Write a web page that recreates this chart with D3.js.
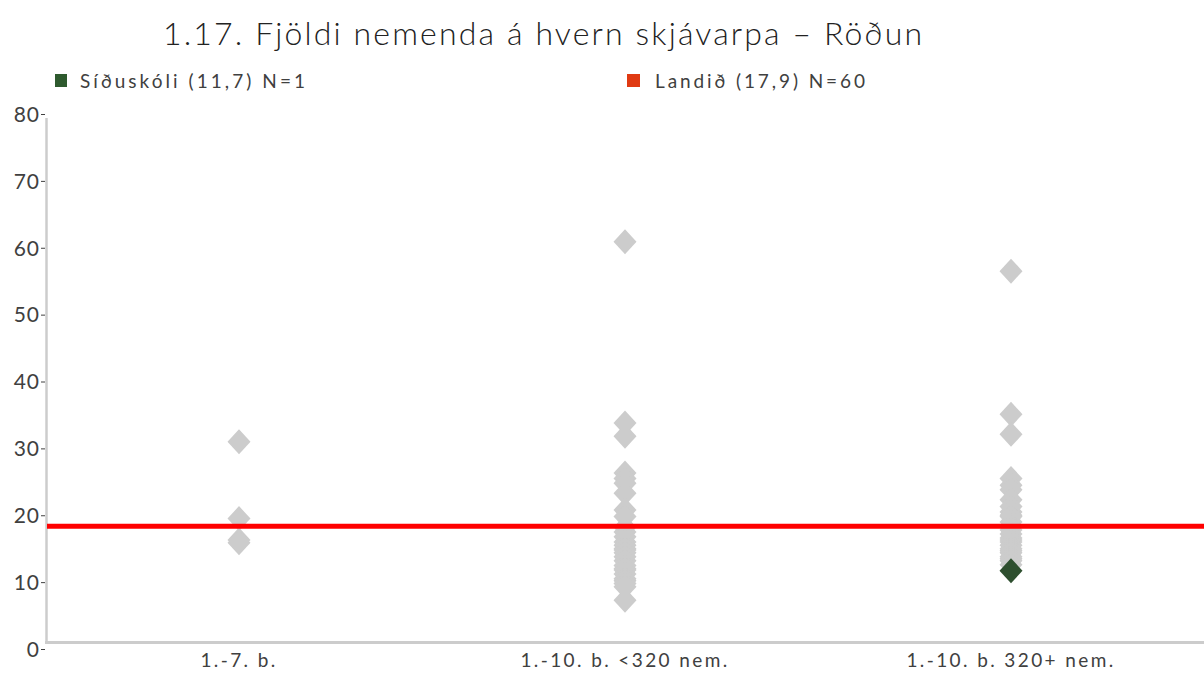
<!DOCTYPE html>
<html>
<head>
<meta charset="utf-8">
<script src="https://cdn.jsdelivr.net/npm/d3@7"></script>
<style>
  body { margin: 0; background: #fff; }
  text { font-family: Lato, "Open Sans", sans-serif; fill: #404040; }
</style>
</head>
<body>
<div id="chart"></div>
<script>
// data
const categories = ["1.-7. b.", "1.-10. b. <320 nem.", "1.-10. b. 320+ nem."]
const yTicks = [0, 10, 20, 30, 40, 50, 60, 70, 80]

// grey diamonds: all schools in each category
const schools1to7 = [31.0, 19.5, 16.3, 15.9]
const schoolsUnder320 = [60.9, 33.8, 31.8, 26.3, 25.5, 24.8, 23.3, 20.8, 19.8, 18.2, 17.5, 16.8, 16.0,
    15.5, 15.0, 14.8, 14.4, 13.8, 13.2, 12.5, 12.0, 11.8, 11.2, 10.5, 10.2, 9.8, 9.3, 7.3]
const schoolsOver320 = [56.5, 35.1, 32.1, 25.5, 24.5, 23.8, 22.3, 21.3, 20.5, 20.0, 19.8, 19.0, 18.5,
    18.2, 17.8, 17.2, 16.6, 16.3, 16.0, 15.5, 15.0, 14.7, 14.4, 13.8, 13.5, 13.2, 12.6]

// highlighted school
const schoolName = "Síðuskóli"
const schoolCategory = "1.-10. b. 320+ nem."
const schoolValue = 11.7
const schoolN = 1

// national average
const landValue = 17.9
const landN = 60

const title = "1.17. Fjöldi nemenda á hvern skjávarpa – Röðun"

//container with dimensions
let width = 1204,
    height = 673

let svg = d3.select("#chart")
    .append("svg")
    .attr("width", width)
    .attr("height", height)

//scales
let xScale = d3.scaleBand()
    .domain(categories)
    .range([46, width])

let yScale = d3.scaleLinear()
    .domain([0, 80])
    .range([649, 114])

//axis frame lines
svg.append("line")
    .style("stroke", "#cccccc")
    .style("stroke-width", 2.5)
    .attr("x1", 46.5)
    .attr("x2", 46.5)
    .attr("y1", yScale(80) + 4)
    .attr("y2", yScale(0) - 5)
svg.append("line")
    .style("stroke", "#cccccc")
    .style("stroke-width", 3)
    .attr("x1", 45)
    .attr("x2", width)
    .attr("y1", yScale(0) - 6.5)
    .attr("y2", yScale(0) - 6.5)

//y axis
let yAxis = d3.axisLeft(yScale).tickValues(yTicks).tickSize(4).tickPadding(1)
let gy = svg.append("g")
    .attr("transform", "translate(45,0)")
    .call(yAxis)
gy.select(".domain").remove()
gy.selectAll(".tick line").style("stroke", "#404040").style("stroke-width", 1)
gy.selectAll(".tick text")
    .style("font-size", "21px")
    .style("letter-spacing", "1px")
    .style("fill", "#404040")
    .attr("dy", "0.35em")

//x axis labels
let xAxis = d3.axisBottom(xScale).tickSize(0).tickPadding(11)
let gx = svg.append("g")
    .attr("transform", `translate(0,${yScale(0) - 6})`)
    .call(xAxis)
gx.select(".domain").remove()
gx.selectAll(".tick text")
    .style("font-size", "19px")
    .style("letter-spacing", "2.4px")
    .style("fill", "#404040")

//diamonds
const diamond = "M0,-12.5L11.5,0L0,12.5L-11.5,0Z"
const points = []
schools1to7.forEach(v => points.push({ cat: categories[0], value: v }))
schoolsUnder320.forEach(v => points.push({ cat: categories[1], value: v }))
schoolsOver320.forEach(v => points.push({ cat: categories[2], value: v }))

svg.selectAll(".school")
    .data(points)
    .enter()
    .append("path")
    .attr("class", "school")
    .attr("d", diamond)
    .style("fill", "#cccccc")
    .attr("transform", d => `translate(${xScale(d.cat) + xScale.bandwidth() / 2},${yScale(d.value)})`)

//national average line
svg.append("line")
    .style("stroke", "#ff0000")
    .style("stroke-width", 5)
    .attr("x1", 47)
    .attr("x2", width)
    .attr("y1", yScale(landValue) - 3)
    .attr("y2", yScale(landValue) - 3)

//highlighted school
svg.append("path")
    .attr("d", diamond)
    .style("fill", "#2e4f2f")
    .attr("transform", `translate(${xScale(schoolCategory) + xScale.bandwidth() / 2},${yScale(schoolValue)})`)

//legend
svg.append("rect")
    .attr("x", 55).attr("y", 74).attr("width", 12).attr("height", 13)
    .style("fill", "#2e5a2e")
svg.append("text")
    .attr("x", 80).attr("y", 88)
    .style("font-size", "19px")
    .attr("textLength", 225)
    .attr("lengthAdjust", "spacing")
    .text(`${schoolName} (${String(schoolValue).replace(".", ",")}) N=${schoolN}`)

svg.append("rect")
    .attr("x", 627).attr("y", 74).attr("width", 13).attr("height", 13)
    .style("fill", "#e03a12")
svg.append("text")
    .attr("x", 655).attr("y", 88)
    .style("font-size", "19px")
    .attr("textLength", 210)
    .attr("lengthAdjust", "spacing")
    .text(`Landið (${String(landValue).replace(".", ",")}) N=${landN}`)

//title
svg.append("text")
    .attr("x", 163).attr("y", 45)
    .style("font-size", "32px")
    .style("font-weight", 300)
    .attr("textLength", 759)
    .attr("lengthAdjust", "spacing")
    .style("fill", "#222")
    .text(title)
</script>
</body>
</html>
